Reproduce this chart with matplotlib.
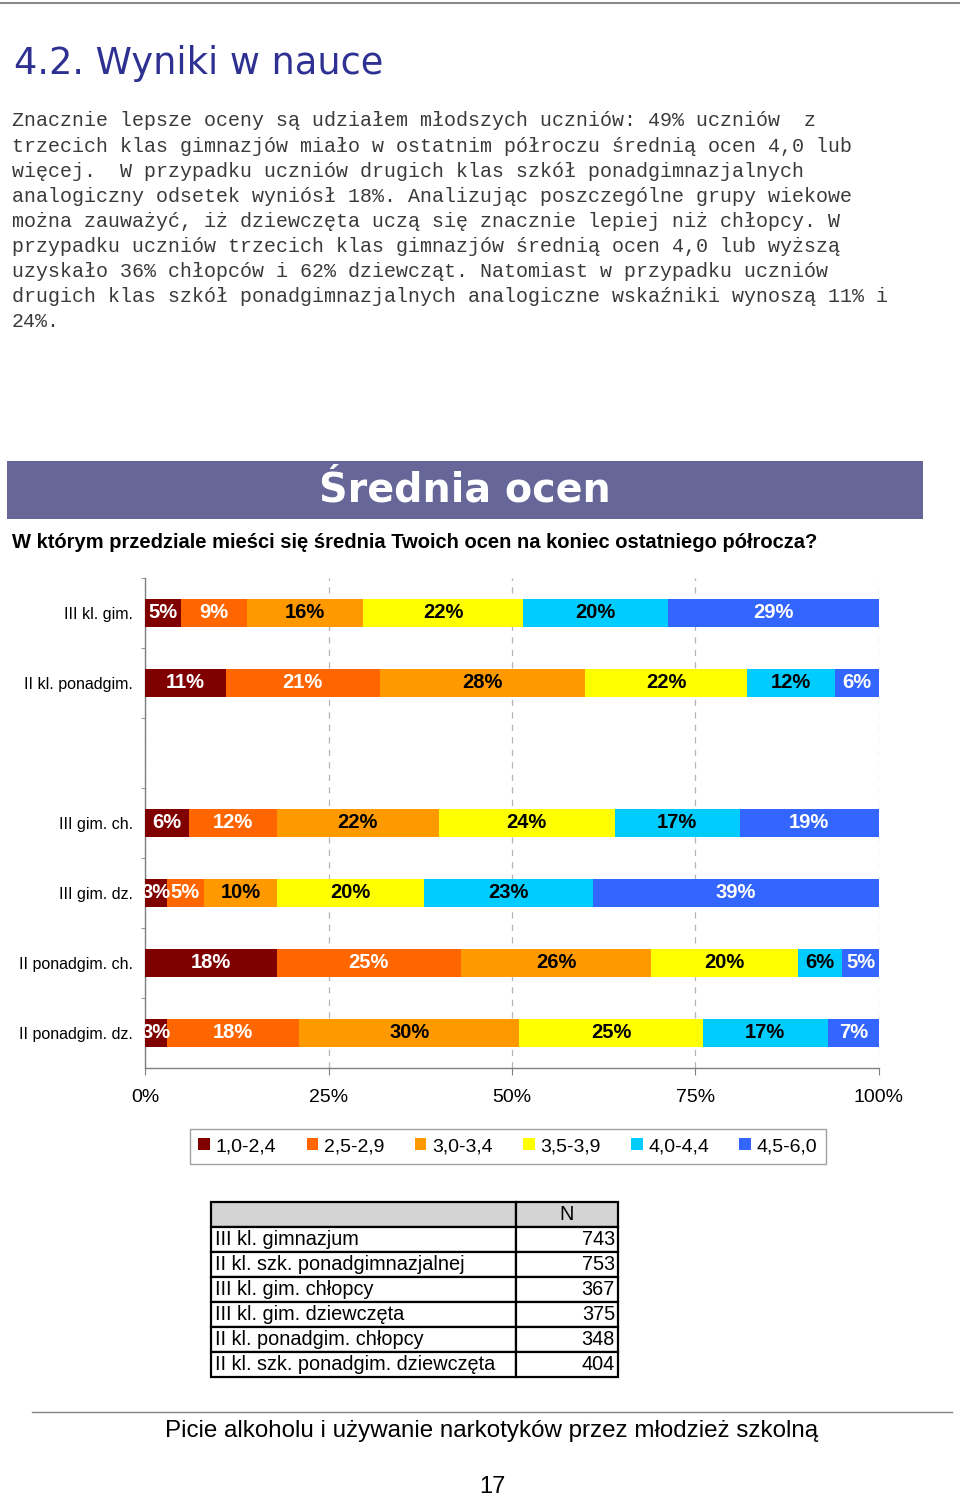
import matplotlib
matplotlib.use("Agg")
import matplotlib.pyplot as plt
from matplotlib.patches import Patch, Rectangle
import numpy as np

# ---------------- data ----------------
rows = ["III kl. gim.", "II kl. ponadgim.", "III gim. ch.", "III gim. dz.",
        "II ponadgim. ch.", "II ponadgim. dz."]
row_slots = [0, 1, 3, 4, 5, 6]          # one empty slot between the two groups
series = ["1,0-2,4", "2,5-2,9", "3,0-3,4", "3,5-3,9", "4,0-4,4", "4,5-6,0"]
v_10 = [5, 11, 6, 3, 18, 3]
v_25 = [9, 21, 12, 5, 25, 18]
v_30 = [16, 28, 22, 10, 26, 30]
v_35 = [22, 22, 24, 20, 20, 25]
v_40 = [20, 12, 17, 23, 6, 17]
v_45 = [29, 6, 19, 39, 5, 7]
colors = ["#800000", "#FF6600", "#FF9900", "#FFFF00", "#00CCFF", "#3366FF"]
label_colors = ["white", "white", "black", "black", "black", "white"]
x_ticks = [0, 25, 50, 75, 100]
x_ticklabels = ["0%", "25%", "50%", "75%", "100%"]

table_groups = ["III kl. gimnazjum", "II kl. szk. ponadgimnazjalnej",
                "III kl. gim. chłopcy", "III kl. gim. dziewczęta",
                "II kl. ponadgim. chłopcy", "II kl. szk. ponadgim. dziewczęta"]
table_n = [743, 753, 367, 375, 348, 404]

title = "4.2. Wyniki w nauce"
paragraph = [
    "Znacznie lepsze oceny są udziałem młodszych uczniów: 49% uczniów  z",
    "trzecich klas gimnazjów miało w ostatnim półroczu średnią ocen 4,0 lub",
    "więcej.  W przypadku uczniów drugich klas szkół ponadgimnazjalnych",
    "analogiczny odsetek wyniósł 18%. Analizując poszczególne grupy wiekowe",
    "można zauważyć, iż dziewczęta uczą się znacznie lepiej niż chłopcy. W",
    "przypadku uczniów trzecich klas gimnazjów średnią ocen 4,0 lub wyższą",
    "uzyskało 36% chłopców i 62% dziewcząt. Natomiast w przypadku uczniów",
    "drugich klas szkół ponadgimnazjalnych analogiczne wskaźniki wynoszą 11% i",
    "24%.",
]
banner = "Średnia ocen"
question = "W którym przedziale mieści się średnia Twoich ocen na koniec ostatniego półrocza?"
footer = "Picie alkoholu i używanie narkotyków przez młodzież szkolną"
page_no = "17"

# ---------------- figure ----------------
W, H = 960, 1497
fig = plt.figure(figsize=(W / 100, H / 100), dpi=100)
fig.patch.set_facecolor("white")

page = fig.add_axes([0, 0, 1, 1])
page.set_xlim(0, W)
page.set_ylim(H, 0)
page.axis("off")

SANS = "Liberation Sans"

# top rule
page.plot([0, 960], [3, 3], color="#8a8a8a", lw=1.5)
# title
page.text(14, 63, title, fontsize=26.5, color="#2e3192", family="DejaVu Sans",
          va="center", ha="left")
# paragraph
for i, line in enumerate(paragraph):
    page.text(12, 121 + i * 25.1, line, fontsize=14.45, family="Liberation Mono",
              color="#3a3a3a", va="center", ha="left")

# banner
page.add_patch(Rectangle((7, 461), 916, 58, facecolor="#666699", edgecolor="none"))
page.text(465, 491, banner, fontsize=28.5, fontweight="bold", family="DejaVu Sans",
          color="white", ha="center", va="center")
page.text(12, 542, question, fontsize=14.5, fontweight="bold", family=SANS,
          color="black", ha="left", va="center")

# footer
page.plot([32, 952], [1412, 1412], color="#808080", lw=1)
page.text(492, 1431, footer, fontsize=17.4, family=SANS, ha="center", va="center")
page.text(492, 1487, page_no, fontsize=17, family=SANS, ha="center", va="center")

# ---------------- bar chart ----------------
ax_l, ax_r, ax_t, ax_b = 145, 879, 578, 1068
ax = fig.add_axes([ax_l / W, 1 - ax_b / H, (ax_r - ax_l) / W, (ax_b - ax_t) / H])
ax.set_zorder(2)
ax.patch.set_alpha(0)

data = np.array([v_10, v_25, v_30, v_35, v_40, v_45], dtype=float)  # series x rows
totals = data.sum(axis=0)
pct = data / totals * 100
left = np.zeros(len(rows))
for s in range(len(series)):
    bars = ax.barh(row_slots, pct[s], left=left, height=0.4, color=colors[s],
                   label=series[s], zorder=3)
    for j, b in enumerate(bars):
        cx = left[j] + pct[s][j] / 2
        ax.text(cx, row_slots[j], f"{int(data[s][j])}%", ha="center", va="center",
                fontsize=14.5, fontweight="bold", family=SANS,
                color=label_colors[s], zorder=4)
    left = left + pct[s]

ax.set_xlim(0, 100)
ax.set_ylim(6.5, -0.5)
ax.set_xticks(x_ticks)
ax.set_xticklabels(x_ticklabels, fontsize=14, family=SANS)
ax.set_yticks(row_slots)
ax.set_yticklabels(rows, fontsize=11.5, family=SANS)
ax.set_yticks(np.arange(-0.5, 6.0, 1.0), minor=True)
ax.tick_params(axis="y", which="major", length=0, pad=8.5)
ax.tick_params(axis="y", which="minor", length=3, color="#808080", direction="out")
ax.tick_params(axis="x", which="major", length=5, color="#808080", direction="out", pad=10)
for side in ["top", "right"]:
    ax.spines[side].set_visible(False)
for side in ["left", "bottom"]:
    ax.spines[side].set_color("#808080")
    ax.spines[side].set_linewidth(1)
ax.xaxis.grid(True, color="#b5b5b5", lw=0.9, linestyle=(0, (5, 5)), zorder=0)
ax.set_axisbelow(True)

# legend
handles = [Patch(facecolor=c, edgecolor="none") for c in colors]
fig.legend(handles, series, loc="center", bbox_to_anchor=(508, 1146.5),
           bbox_transform=page.transData, ncol=6,
           prop={"family": SANS, "size": 14},
           handlelength=0.6, handleheight=0.6, handletextpad=0.3,
           columnspacing=1.55, borderpad=0.45, frameon=True, fancybox=False,
           edgecolor="#a0a0a0", framealpha=1)

# ---------------- table ----------------
t_l, t_t, t_w, t_h = 211, 1202, 407, 175
tax = fig.add_axes([t_l / W, 1 - (t_t + t_h) / H, t_w / W, t_h / H])
tax.axis("off")
cell_text = [["", "N"]] + [[g, str(n)] for g, n in zip(table_groups, table_n)]
tbl = tax.table(cellText=cell_text, colWidths=[305 / 407, 102 / 407],
                bbox=[0, 0, 1, 1])
tbl.auto_set_font_size(False)
for (r, c), cell in tbl.get_celld().items():
    cell.set_linewidth(1.6)
    cell.set_edgecolor("black")
    cell.get_text().set_fontsize(14.3)
    cell.get_text().set_family(SANS)
    if r == 0:
        cell.set_facecolor("#d4d4d4")
        cell._loc = "center"
        cell.get_text().set_horizontalalignment("center")
    elif c == 0:
        cell._loc = "left"
        cell.PAD = 0.012
        cell.get_text().set_horizontalalignment("left")
    else:
        cell._loc = "right"
        cell.PAD = 0.03
        cell.get_text().set_horizontalalignment("right")

fig.savefig("out.png", dpi=100, facecolor="white")
